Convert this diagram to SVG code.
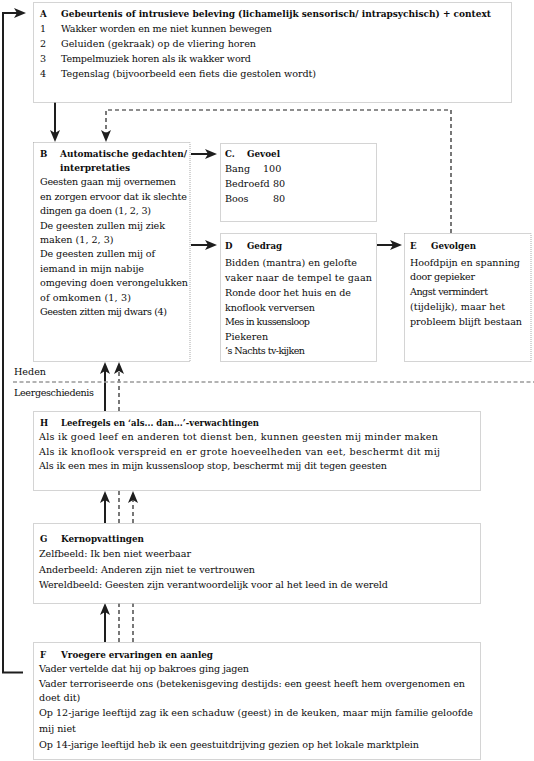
<svg xmlns="http://www.w3.org/2000/svg" width="534" height="761" viewBox="0 0 534 761">
<style>
.box{fill:#fff;stroke:#a8a8a8;stroke-width:1;stroke-dasharray:1 1}
text{font-family:"DejaVu Serif","Liberation Serif",serif;font-size:9.6px;fill:#0d0d0d}
.b{font-family:"DejaVu Serif Condensed","DejaVu Serif","Liberation Serif",serif;font-weight:bold}
.sol{fill:none;stroke:#1e1e1e;stroke-width:2}
.dash{fill:none;stroke:#1e1e1e;stroke-width:1.2;stroke-dasharray:4 3}
.sep{fill:none;stroke:#9a9a9a;stroke-width:1.5;stroke-dasharray:4 2.5}
</style>
<defs>
<marker id="ah" viewBox="0 0 12 10" refX="9" refY="5" markerWidth="12" markerHeight="10" markerUnits="userSpaceOnUse" orient="auto">
<path d="M0,0 L12,5 L0,10 L3,5 z" fill="#1e1e1e"/>
</marker>
</defs>
<rect width="534" height="761" fill="#fff"/>

<g id="connectors">
<path class="sol" d="M23,672.5 H3 V13 H23" marker-end="url(#ah)"/>
<path class="sol" d="M55,102 V139" marker-end="url(#ah)"/>
<path class="dash" d="M451,233 V110 H106 V139" marker-end="url(#ah)"/>
<path class="sol" d="M191,154 H214" marker-end="url(#ah)"/>
<path class="sol" d="M191,245 H214" marker-end="url(#ah)"/>
<path class="sol" d="M377,245 H399" marker-end="url(#ah)"/>
<path class="sol" d="M105,642 V606" marker-end="url(#ah)"/>
<path class="sol" d="M105,523 V494" marker-end="url(#ah)"/>
<path class="sol" d="M105,411 V365" marker-end="url(#ah)"/>
<path class="dash" d="M119,642 V603"/>
<path class="dash" d="M119,523 V491"/>
<path class="dash" d="M119,411 V365" marker-end="url(#ah)"/>
<path class="dash" d="M133,642 V603"/>
<path class="dash" d="M133,523 V494" marker-end="url(#ah)"/>
</g>

<g id="divider">
<path class="sep" d="M13,382 H534"/>
<text x="14" y="375">Heden</text>
<text x="14" y="396" textLength="80">Leergeschiedenis</text>
</g>

<g id="A">
<rect class="box" x="33.5" y="2.5" width="478" height="100"/>
<text class="b" x="40" y="17">A</text>
<text class="b" x="61" y="17" textLength="430" lengthAdjust="spacingAndGlyphs">Gebeurtenis of intrusieve beleving (lichamelijk sensorisch/ intrapsychisch) + context</text>
<text x="40" y="31.5">1</text><text x="61" y="31.5" textLength="211">Wakker worden en me niet kunnen bewegen</text>
<text x="40" y="46.5">2</text><text x="61" y="46.5" textLength="195">Geluiden (gekraak) op de vliering horen</text>
<text x="40" y="61.8">3</text><text x="61" y="61.8" textLength="190">Tempelmuziek horen als ik wakker word</text>
<text x="40" y="77">4</text><text x="61" y="77" textLength="255">Tegenslag (bijvoorbeeld een fiets die gestolen wordt)</text>
</g>

<g id="B">
<rect class="box" x="33.5" y="142.5" width="156.5" height="219"/>
<text class="b" x="40" y="156.5">B</text>
<text class="b" x="60" y="156.5" textLength="127" lengthAdjust="spacingAndGlyphs">Automatische gedachten/</text>
<text class="b" x="60" y="170.9" textLength="70" lengthAdjust="spacingAndGlyphs">interpretaties</text>
<text x="40" y="185.3" textLength="136">Geesten gaan mij overnemen</text>
<text x="40" y="199.7" textLength="147">en zorgen ervoor dat ik slechte</text>
<text x="40" y="214.1" textLength="111">dingen ga doen (1, 2, 3)</text>
<text x="40" y="228.5" textLength="125">De geesten zullen mij ziek</text>
<text x="40" y="242.9">maken (1, 2, 3)</text>
<text x="40" y="257.3" textLength="115">De geesten zullen mij of</text>
<text x="40" y="271.7" textLength="104">iemand in mijn nabije</text>
<text x="40" y="286.1" textLength="148">omgeving doen verongelukken</text>
<text x="40" y="300.5" textLength="91">of omkomen (1, 3)</text>
<text x="40" y="314.9" textLength="127">Geesten zitten mij dwars (4)</text>
</g>

<g id="C">
<rect class="box" x="220.5" y="143.5" width="156" height="78"/>
<text class="b" x="225" y="157">C.</text>
<text class="b" x="247" y="157" textLength="33" lengthAdjust="spacingAndGlyphs">Gevoel</text>
<text x="225" y="171.5">Bang</text><text x="263" y="171.5">100</text>
<text x="225" y="186.5">Bedroefd</text><text x="273" y="186.5">80</text>
<text x="225" y="201.5">Boos</text><text x="273" y="201.5">80</text>
</g>

<g id="D">
<rect class="box" x="220.5" y="233.5" width="156" height="128"/>
<text class="b" x="225" y="249">D</text>
<text class="b" x="247" y="249" textLength="35" lengthAdjust="spacingAndGlyphs">Gedrag</text>
<text x="225" y="265.5" textLength="132">Bidden (mantra) en gelofte</text>
<text x="225" y="280.5" textLength="147">vaker naar de tempel te gaan</text>
<text x="225" y="295.5" textLength="126">Ronde door het huis en de</text>
<text x="225" y="310.5" textLength="90">knoflook verversen</text>
<text x="225" y="325.3" textLength="85">Mes in kussensloop</text>
<text x="225" y="339.7">Piekeren</text>
<text x="225" y="354" textLength="80">’s Nachts tv-kijken</text>
</g>

<g id="E">
<rect class="box" x="404.5" y="233.5" width="126.5" height="128"/>
<text class="b" x="410" y="249">E</text>
<text class="b" x="431" y="249" textLength="45" lengthAdjust="spacingAndGlyphs">Gevolgen</text>
<text x="410" y="265.5" textLength="110">Hoofdpijn en spanning</text>
<text x="410" y="280" textLength="65">door gepieker</text>
<text x="410" y="295" textLength="78">Angst vermindert</text>
<text x="410" y="310" textLength="95">(tijdelijk), maar het</text>
<text x="410" y="324.5" textLength="112">probleem blijft bestaan</text>
</g>

<g id="H">
<rect class="box" x="33.5" y="411.5" width="447" height="79"/>
<text class="b" x="40" y="426">H</text>
<text class="b" x="61" y="426" textLength="198" lengthAdjust="spacingAndGlyphs">Leefregels en ‘als... dan...’-verwachtingen</text>
<text x="39" y="440.3" textLength="399">Als ik goed leef en anderen tot dienst ben, kunnen geesten mij minder maken</text>
<text x="39" y="454.7" textLength="401">Als ik knoflook verspreid en er grote hoeveelheden van eet, beschermt dit mij</text>
<text x="39" y="469.2" textLength="348">Als ik een mes in mijn kussensloop stop, beschermt mij dit tegen geesten</text>
</g>

<g id="G">
<rect class="box" x="33.5" y="523.5" width="447" height="80"/>
<text class="b" x="40" y="542">G</text>
<text class="b" x="61" y="542" textLength="83" lengthAdjust="spacingAndGlyphs">Kernopvattingen</text>
<text x="39" y="557.2" textLength="152">Zelfbeeld: Ik ben niet weerbaar</text>
<text x="39" y="572.5" textLength="216">Anderbeeld: Anderen zijn niet te vertrouwen</text>
<text x="39" y="587.8" textLength="349">Wereldbeeld: Geesten zijn verantwoordelijk voor al het leed in de wereld</text>
</g>

<g id="F">
<rect class="box" x="33.5" y="642.5" width="447" height="117"/>
<text class="b" x="40" y="657.5">F</text>
<text class="b" x="61" y="657.5" textLength="152" lengthAdjust="spacingAndGlyphs">Vroegere ervaringen en aanleg</text>
<text x="39" y="671.5" textLength="210">Vader vertelde dat hij op bakroes ging jagen</text>
<text x="39" y="686.5" textLength="426">Vader terroriseerde ons (betekenisgeving destijds: een geest heeft hem overgenomen en</text>
<text x="39" y="701.2">doet dit)</text>
<text x="39" y="716" textLength="434">Op 12-jarige leeftijd zag ik een schaduw (geest) in de keuken, maar mijn familie geloofde</text>
<text x="39" y="731.8">mij niet</text>
<text x="39" y="747.8" textLength="380">Op 14-jarige leeftijd heb ik een geestuitdrijving gezien op het lokale marktplein</text>
</g>
</svg>
